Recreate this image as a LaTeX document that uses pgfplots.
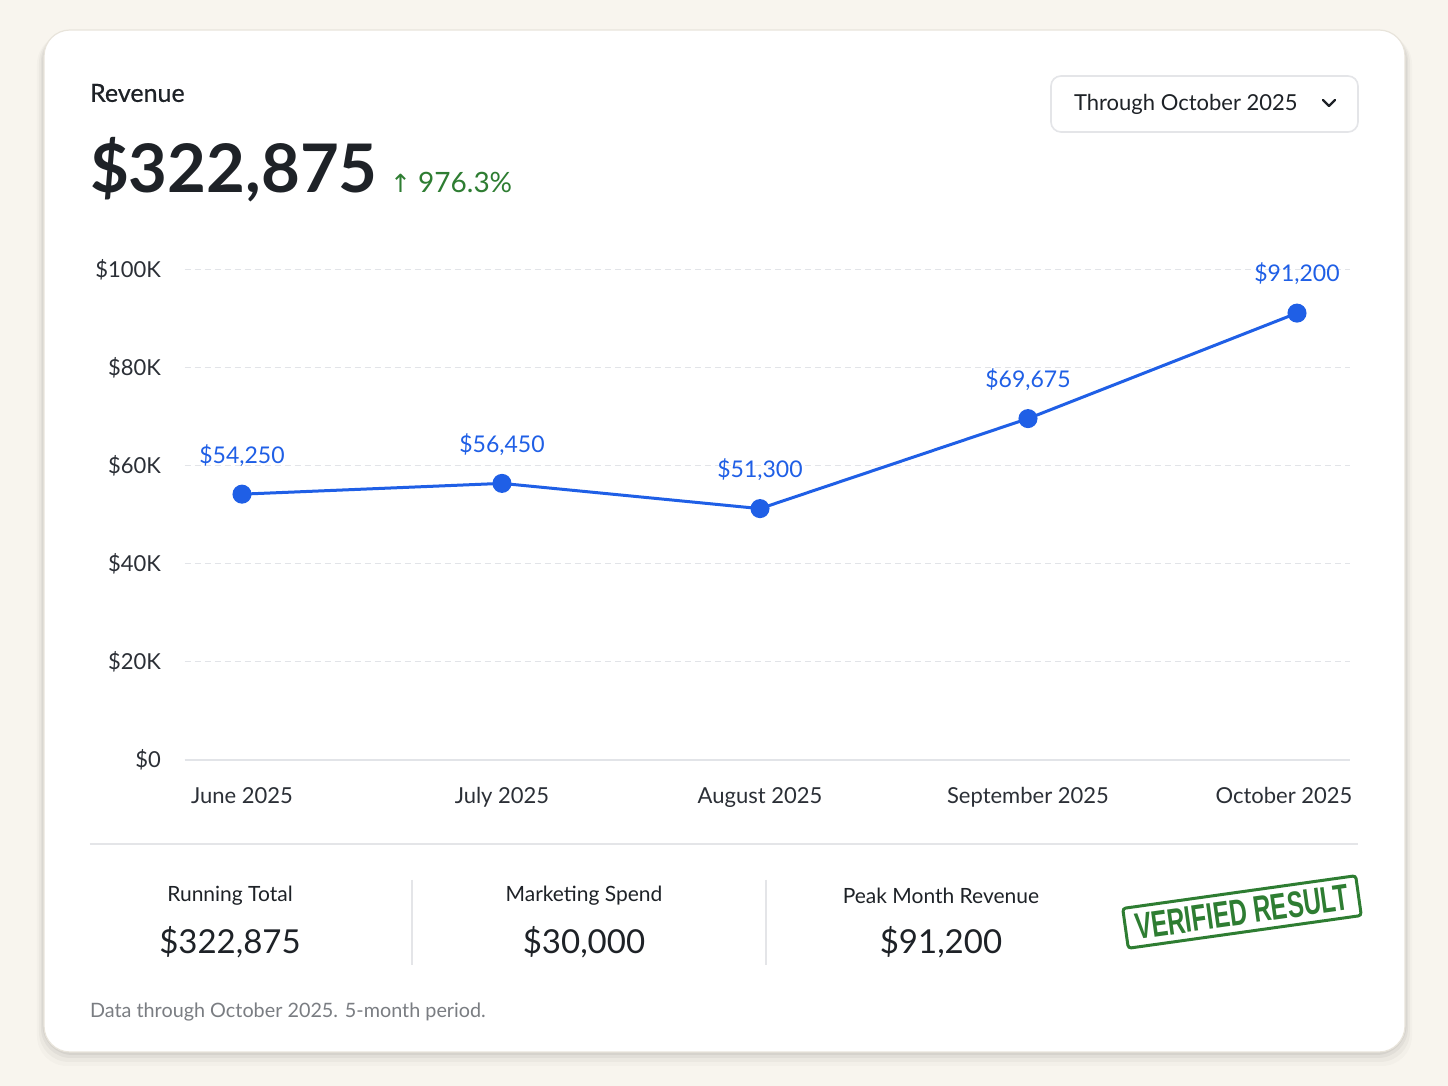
\documentclass[border=0pt]{standalone}
\usepackage{pgfplots}
\pgfplotsset{compat=1.18}
\usepackage{fontspec}
\usepackage{graphicx}
\setmainfont{Lato}
\newfontfamily\stampfont{Liberation Sans}
\newfontfamily\symfont{DejaVu Sans}

\definecolor{pagebg}{HTML}{F8F5EE}
\definecolor{cardline}{HTML}{E8E4DB}
\definecolor{ink}{HTML}{1E2227}
\definecolor{tickink}{HTML}{2B2F36}
\definecolor{gridc}{HTML}{E2E4E8}
\definecolor{lineblue}{HTML}{1F5FE6}
\definecolor{upgreen}{HTML}{2E7D32}
\definecolor{footgray}{HTML}{7A7D82}
\definecolor{sepc}{HTML}{E4E5E8}

\begin{document}
\begin{tikzpicture}
% page and card, in pixel units (y down), axis box lower-left at px (185,760)
\begin{scope}[x=0.5pt, y=-0.5pt, shift={(-92.5pt,380pt)}]
  \fill[pagebg] (0,0) rectangle (1448,1086);
  \foreach \o/\a in {14/0.02, 10/0.03, 6/0.04, 3/0.05}{
    \fill[black, opacity=\a, rounded corners=15pt] (44-\o*0.5,30+\o*0.3) rectangle (1405+\o*0.5,1052+\o);
  }
  \filldraw[fill=white, draw=cardline, line width=0.6pt, rounded corners=13pt] (44,30) rectangle (1405,1052);

  % header
  \node[anchor=west, text=ink, font=\fontsize{12.5}{14}\selectfont\addfontfeature{FakeBold=0.6}] at (83,93) {Revenue};
  \node[anchor=west, text=ink, font=\fontsize{33.5}{40}\bfseries] at (83,170) {\$322,875};
  \node[anchor=west, text=upgreen, font=\fontsize{14}{16}\selectfont] at (383,182) {{\symfont\fontsize{12.5}{14}\selectfont↑} 976.3\%};

  % dropdown
  \draw[sepc, line width=0.8pt, rounded corners=5pt, fill=white] (1051,76) rectangle (1358,132);
  \node[anchor=west, text=ink, font=\fontsize{11}{13}\selectfont] at (1067,104) {Through October 2025};
  \draw[ink, line width=1.2pt, line cap=round, line join=round] (1323,100) -- (1329,106) -- (1335,100);

  % separator
  \draw[sepc, line width=0.7pt] (90,844) -- (1358,844);

  % stats
  \draw[sepc, line width=0.7pt] (412,880) -- (412,965);
  \draw[sepc, line width=0.7pt] (766,880) -- (766,965);
  \foreach \cx/\lab/\val in {230/Running Total/\$322{,}875, 584/Marketing Spend/\$30{,}000, 941/Peak Month Revenue/\$91{,}200}{
    \node[text=ink, font=\fontsize{10.5}{12}\selectfont] at (\cx,896) {\lab};
    \node[text=ink, font=\fontsize{16.5}{19}\selectfont] at (\cx,942) {\val};
  }

  % stamp
  \node[rotate=8, draw=upgreen, line width=1.5pt, rounded corners=1.5pt, text=upgreen,
        inner xsep=5pt, inner ysep=3.5pt, font=\stampfont\bfseries\fontsize{18.5}{20}\selectfont]
        at (1242,912) {\scalebox{0.66}[1]{VERIFIED RESULT}};

  % footer
  \node[anchor=west, text=footgray, font=\fontsize{9.9}{11}\selectfont] at (83,1012) {Data through October 2025. 5-month period.};
\end{scope}

\begin{axis}[
    at={(0,0)}, anchor=south west,
    scale only axis,
    width=582.5pt, height=245pt,
    xmin=185, xmax=1350,
    ymin=0, ymax=100000,
    clip=false,
    axis line style={draw=none},
    major tick length=0pt,
    xtick=data,
    xticklabels={June 2025, July 2025, August 2025, September 2025, \hspace*{-13pt}October 2025},
    ytick={0,20000,40000,60000,80000,100000},
    yticklabels={\$0, \$20K, \$40K, \$60K, \$80K, \$100K},
    ymajorgrids,
    grid style={gridc, dash pattern=on 3pt off 2pt, line width=0.5pt},
    extra y ticks={0},
    extra y tick labels={},
    extra y tick style={grid style={gridc, solid, line width=0.8pt}},
    ticklabel style={text=tickink, font=\fontsize{11}{13}\selectfont},
    yticklabel style={anchor=east, xshift=-8.5pt},
    xticklabel style={anchor=base, yshift=-22pt},
    scaled y ticks=false,
    point meta=explicit symbolic,
    nodes near coords,
    every node near coord/.append style={anchor=center, yshift=19.5pt, text=lineblue, font=\fontsize{11.5}{13}\selectfont},
]
\addplot[lineblue, line width=1.5pt, mark=*, mark size=4pt, mark options={fill=lineblue, draw=lineblue}]
  coordinates {
    (242,54250) [\$54{,}250]
    (502,56450) [\$56{,}450]
    (760,51300) [\$51{,}300]
    (1028,69675) [\$69{,}675]
    (1297,91200) [\$91{,}200]
  };
\end{axis}
\end{tikzpicture}
\end{document}
